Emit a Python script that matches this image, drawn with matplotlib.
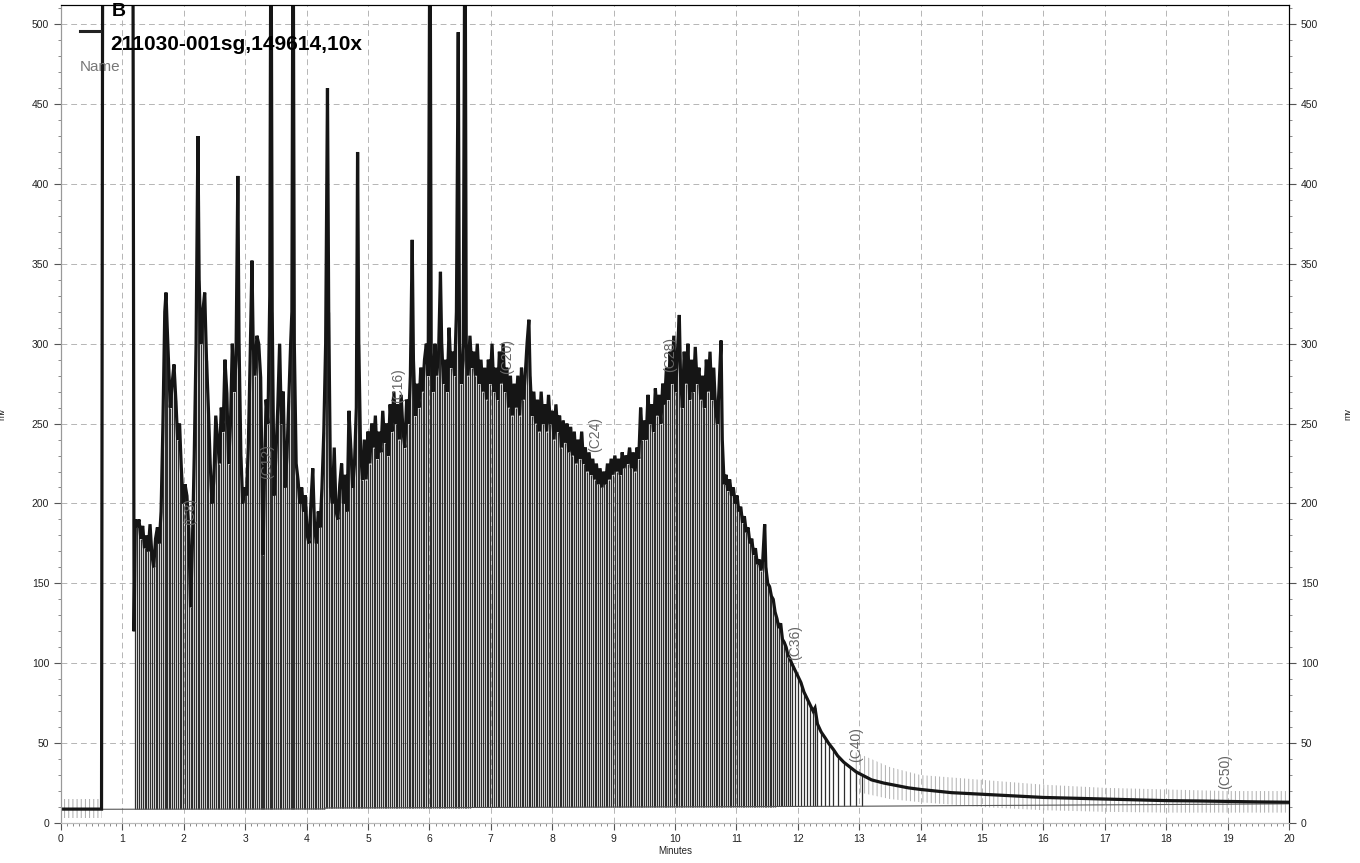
import numpy as np
import matplotlib.pyplot as plt
from matplotlib.ticker import MultipleLocator

plt.rcParams['font.family'] = ['Liberation Sans', 'DejaVu Sans']
plt.rcParams['hatch.linewidth'] = 0.7

# ── chromatogram trace (minutes, mV) ──────────────────────────────────────────
TIME = [0, 0.66, 0.68, 1.17, 1.19,
        1.21, 1.24, 1.27, 1.30, 1.33, 1.36, 1.39, 1.42, 1.45, 1.48, 1.51, 1.54, 1.57, 1.60, 1.63,
        1.66, 1.69, 1.71, 1.73, 1.76, 1.78, 1.81, 1.84, 1.87, 1.90, 1.93, 1.96, 1.99, 2.02, 2.05,
        2.08, 2.11, 2.14, 2.17, 2.20, 2.23, 2.25, 2.28, 2.31, 2.34, 2.37, 2.40, 2.43, 2.46, 2.49,
        2.52, 2.55, 2.58, 2.61, 2.64, 2.67, 2.70, 2.73, 2.76, 2.79, 2.82, 2.85, 2.88, 2.90, 2.93,
        2.96, 2.99, 3.02, 3.05, 3.08, 3.11, 3.13, 3.16, 3.19, 3.22, 3.25, 3.27, 3.29, 3.31, 3.34,
        3.37, 3.40, 3.42, 3.44, 3.47, 3.50, 3.53, 3.56, 3.59, 3.62, 3.65, 3.68, 3.71, 3.74, 3.76,
        3.78, 3.80, 3.83, 3.86, 3.89, 3.92, 3.95, 3.98, 4.01, 4.04, 4.07, 4.10, 4.13, 4.16, 4.19,
        4.22, 4.25, 4.28, 4.31, 4.34, 4.36, 4.39, 4.42, 4.45, 4.48, 4.51, 4.54, 4.57, 4.60, 4.63,
        4.66, 4.69, 4.72, 4.75, 4.78, 4.81, 4.83, 4.85, 4.88, 4.91, 4.94, 4.97, 5.00, 5.03, 5.06,
        5.09, 5.12, 5.15, 5.18, 5.21, 5.24, 5.27, 5.30, 5.33, 5.36, 5.39, 5.42, 5.45, 5.48, 5.51,
        5.54, 5.57, 5.60, 5.63, 5.66, 5.69, 5.72, 5.74, 5.77, 5.80, 5.83, 5.86, 5.89, 5.92, 5.95,
        5.98, 6.01, 6.03, 6.06, 6.09, 6.12, 6.15, 6.18, 6.20, 6.23, 6.26, 6.29, 6.32, 6.35, 6.38,
        6.41, 6.44, 6.47, 6.49, 6.52, 6.55, 6.58, 6.60, 6.63, 6.66, 6.69, 6.72, 6.75, 6.78, 6.81,
        6.84, 6.87, 6.90, 6.93, 6.96, 6.99, 7.02, 7.05, 7.08, 7.11, 7.14, 7.17, 7.20, 7.23, 7.26,
        7.29, 7.32, 7.35, 7.38, 7.41, 7.44, 7.47, 7.50, 7.53, 7.56, 7.59, 7.62, 7.64, 7.67, 7.70,
        7.73, 7.76, 7.79, 7.82, 7.85, 7.88, 7.91, 7.94, 7.97, 8.00, 8.03, 8.06, 8.09, 8.12, 8.15,
        8.18, 8.21, 8.24, 8.27, 8.30, 8.33, 8.36, 8.39, 8.42, 8.45, 8.48, 8.51, 8.54, 8.57, 8.60,
        8.63, 8.66, 8.69, 8.72, 8.75, 8.78, 8.81, 8.84, 8.87, 8.90, 8.93, 8.96, 8.99, 9.02, 9.05,
        9.08, 9.11, 9.14, 9.17, 9.20, 9.23, 9.26, 9.29, 9.32, 9.35, 9.38, 9.41, 9.44, 9.47, 9.50,
        9.53, 9.56, 9.59, 9.62, 9.65, 9.68, 9.71, 9.74, 9.77, 9.80, 9.83, 9.86, 9.89, 9.92, 9.95,
        9.98, 10.01, 10.04, 10.07, 10.09, 10.12, 10.15, 10.18, 10.21, 10.24, 10.27, 10.30, 10.33,
        10.36, 10.39, 10.42, 10.45, 10.48, 10.51, 10.54, 10.57, 10.60, 10.63, 10.66, 10.69, 10.72,
        10.75, 10.77, 10.80, 10.83, 10.86, 10.89, 10.92, 10.95, 10.98, 11.01, 11.04, 11.07, 11.10,
        11.13, 11.16, 11.19, 11.22, 11.25, 11.28, 11.31, 11.34, 11.37, 11.40, 11.43, 11.46, 11.48,
        11.51, 11.54, 11.57, 11.60, 11.63, 11.66, 11.69, 11.72, 11.75, 11.78, 11.81, 11.84, 11.87,
        11.90, 11.95, 12.00, 12.05, 12.10, 12.15, 12.20, 12.25, 12.28, 12.32, 12.38, 12.45, 12.50,
        12.58, 12.65, 12.75, 12.85, 12.95, 13.05, 13.2, 13.4, 13.6, 13.8, 14.0, 14.5, 15.0, 15.5,
        16.0, 16.5, 17.0, 17.5, 18.0, 18.5, 19.0, 19.5, 20.0]
MV = [8.7, 8.7, 600, 600, 120,
      190, 185, 190, 178, 186, 172, 180, 170, 187, 168, 160, 178, 185, 175, 195,
      250, 320, 332, 310, 280, 260, 275, 287, 265, 240, 250, 222, 200, 212, 205,
      185, 135, 175, 230, 300, 430, 340, 300, 320, 332, 290, 260, 225, 200, 215,
      255, 240, 225, 260, 245, 290, 270, 225, 250, 300, 270, 290, 405, 300, 230,
      200, 210, 205, 235, 290, 352, 300, 280, 305, 300, 280, 230, 168, 210, 265,
      250, 330, 600, 320, 205, 230, 260, 300, 250, 270, 210, 230, 265, 300, 320,
      600, 300, 225, 215, 200, 210, 195, 205, 180, 175, 200, 222, 185, 175, 195,
      185, 210, 245, 300, 460, 320, 210, 200, 235, 195, 190, 212, 225, 200, 218,
      195, 258, 235, 210, 225, 260, 420, 300, 232, 215, 240, 215, 245, 225, 250,
      235, 255, 228, 245, 232, 258, 238, 250, 230, 262, 245, 270, 250, 262, 240,
      268, 245, 235, 265, 250, 280, 365, 290, 255, 275, 260, 285, 270, 290, 300,
      280, 600, 290, 270, 300, 280, 295, 345, 300, 275, 290, 270, 310, 285, 295,
      280, 320, 495, 300, 275, 290, 600, 300, 280, 305, 285, 295, 280, 300, 275,
      290, 270, 285, 265, 290, 275, 300, 270, 285, 265, 295, 275, 300, 270, 285,
      260, 280, 255, 275, 260, 280, 255, 285, 265, 280, 300, 315, 280, 255, 270,
      250, 265, 245, 270, 250, 262, 245, 268, 250, 258, 240, 262, 245, 255, 235,
      252, 238, 250, 232, 248, 230, 245, 225, 240, 228, 245, 225, 235, 220, 232,
      218, 228, 215, 225, 212, 222, 210, 220, 212, 225, 215, 228, 218, 230, 220,
      228, 218, 232, 222, 230, 225, 235, 222, 232, 220, 235, 228, 260, 240, 252,
      240, 268, 250, 262, 245, 272, 255, 268, 250, 275, 262, 285, 265, 295, 275,
      305, 270, 295, 318, 280, 260, 295, 275, 300, 265, 290, 270, 298,
      275, 285, 265, 280, 260, 290, 270, 295, 265, 285, 260, 250, 275,
      302, 240, 212, 218, 208, 215, 205, 210, 200, 205, 195, 198, 188,
      192, 182, 185, 175, 178, 168, 172, 162, 165, 158, 165, 187, 160,
      150, 148, 142, 140, 132, 128, 122, 125, 115, 113, 110, 105, 103,
      100, 96, 92, 88, 82, 78, 74, 70, 72, 62, 57, 53, 50,
      46, 42, 38, 35, 32, 30, 27, 25, 23.5, 22, 21, 19, 18, 17,
      16, 15.5, 15, 14.5, 14, 13.8, 13.5, 13.2, 13]

# integration baseline
BASE_T = [0.68, 4.3, 4.3, 13.0, 20.0]
BASE_V = [8.6, 8.8, 9.4, 10.5, 12.0]

# peak-mark bands (noise region before the solvent peak, tail after C40)
PRE_T, PRE_LO, PRE_HI = [0.05, 0.66], [3, 3], [15, 15]
TAIL_T = [12.9, 13.5, 14.0, 15.0, 16.0, 17.0, 18.0, 19.0, 19.95]
TAIL_LO = [20, 15, 13, 10, 8, 7, 6.5, 6.5, 6.5]
TAIL_HI = [45, 35, 30, 27, 24, 22, 21, 20, 20]

# carbon-number markers
MARK_LABELS = ['(C8)', '(C12)', '(C16)', '(C20)', '(C24)', '(C28)', '(C36)', '(C40)', '(C50)']
MARK_T = [2.10, 3.36, 5.49, 7.26, 8.70, 9.92, 11.95, 12.95, 18.96]
MARK_V = [195, 226, 274, 292, 243, 293, 113, 49, 32]

TITLE_CH = 'B'
TITLE_RUN = '211030-001sg,149614,10x'

# ── figure ────────────────────────────────────────────────────────────────────
fig = plt.figure(figsize=(13.6, 8.63), dpi=100)
ax = fig.add_axes([61 / 1360, 40 / 863, 1228 / 1360, 818 / 863])
ax.set_xlim(0, 20)
ax.set_ylim(0, 512)

t = np.array(TIME)
v = np.array(MV)
base = np.interp(t, BASE_T, BASE_V)

# drop lines
sel = (t > 1.19) & (t < 13.1)
ax.vlines(t[sel], base[sel], v[sel], colors='#2e2e2e', lw=0.9, zorder=2)

# peak-mark bands
ax.fill_between(PRE_T, PRE_LO, PRE_HI, facecolor='none', edgecolor='#aaaaaa',
                hatch='||||', lw=0, zorder=1)
ax.fill_between(TAIL_T, TAIL_LO, TAIL_HI, facecolor='none', edgecolor='#b0b0b0',
                hatch='||||', lw=0, zorder=1)

ax.plot(BASE_T, BASE_V, color='#555555', lw=0.8, zorder=3)
ax.plot(t, v, color='#151515', lw=2.3, zorder=4, solid_joinstyle='miter')

for lab, mt, mv in zip(MARK_LABELS, MARK_T, MARK_V):
    ax.text(mt, mv, lab, rotation=90, ha='center', va='center', fontsize=10,
            color='#666666', zorder=5)

# grid / ticks
ax.xaxis.set_major_locator(MultipleLocator(1))
ax.xaxis.set_minor_locator(MultipleLocator(0.1))
ax.yaxis.set_major_locator(MultipleLocator(50))
ax.yaxis.set_minor_locator(MultipleLocator(10))
ax.grid(True, which='major', color='#b5b5b5', ls=(0, (6, 4)), lw=0.7)
ax.set_axisbelow(True)
ax.tick_params(axis='both', which='major', labelsize=7.5, colors='#555555',
               labelcolor='#222222', length=5, direction='out')
ax.tick_params(axis='both', which='minor', colors='#777777', length=2.5)
ax.tick_params(axis='x', pad=3)

ax2 = ax.twinx()
ax2.set_ylim(ax.get_ylim())
ax2.yaxis.set_major_locator(MultipleLocator(50))
ax2.yaxis.set_minor_locator(MultipleLocator(10))
ax2.tick_params(axis='y', which='major', labelsize=7.5, colors='#555555',
                labelcolor='#222222', length=5)
ax2.tick_params(axis='y', which='minor', colors='#777777', length=2.5)

for a in (ax, ax2):
    a.spines['top'].set_color('black')
    a.spines['right'].set_color('black')
    a.spines['left'].set_color('#999999')
    a.spines['bottom'].set_color('#bbbbbb')

ax.set_xlabel('Minutes', fontsize=7, color='#222222', labelpad=1)
ax.set_ylabel('mv', fontsize=6.5, color='#222222', labelpad=18)
ax2.set_ylabel('mv', fontsize=6.5, color='#222222', labelpad=18)

# legend block
ax.plot([0.31, 0.63], [496, 496], color='#222222', lw=2.2, zorder=6, clip_on=False)
ax.text(0.82, 508, TITLE_CH, fontsize=14, fontweight='bold', va='center', zorder=6)
ax.text(0.80, 487, TITLE_RUN, fontsize=15, fontweight='bold', va='center', zorder=6)
ax.text(0.31, 473, 'Name', fontsize=11, color='#777777', va='center', zorder=6)

fig.savefig('out.png', dpi=100)
